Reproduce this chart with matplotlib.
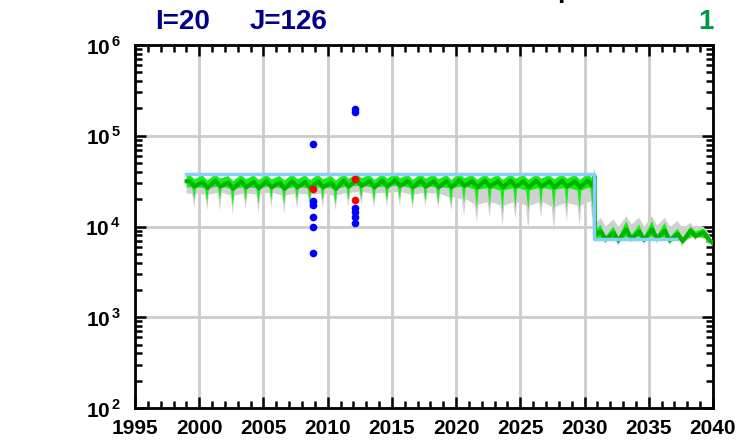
import matplotlib
matplotlib.use("Agg")
import matplotlib.pyplot as plt
from matplotlib.ticker import MultipleLocator, LogLocator, NullFormatter
import numpy as np

plt.rcParams['font.family'] = ['Liberation Sans', 'DejaVu Sans']
plt.rcParams['mathtext.fontset'] = 'custom'
plt.rcParams['mathtext.bf'] = 'Liberation Sans:bold'
plt.rcParams['mathtext.rm'] = 'Liberation Sans:bold'

# ---------------- data ----------------
years = list(range(1999, 2040))
end_year = 2040.0
jump_t = [2030.78, 2030.82]          # abrupt change of level

# upper envelopes (gentle wave): peak / trough per year
green_high_pk = [37000, 36500, 37500, 36000, 37000, 36500, 37000, 36000, 37500, 36500, 37000, 36000,
                 37500, 38000, 37000, 37500, 38500, 37000, 38000, 37500, 37000, 38500, 37000, 37500,
                 37000, 37500, 37000, 37500, 37000, 37500, 37000, 38000,
                 10500, 10000, 11500, 10500, 11500, 11000, 9500, 10000, 9500]
green_high_tr = [33000, 32000, 33500, 31500, 33000, 32500, 33000, 32000, 33000, 32500, 33000, 32000,
                 33500, 34000, 32500, 33500, 34000, 32500, 33500, 33000, 32500, 34000, 32500, 33500,
                 32500, 33500, 32500, 33500, 33000, 33500, 32500, 33500,
                 7800, 7600, 8000, 7800, 8000, 7600, 7400, 8800, 8200]
green_high_jump = [43000, 9000]
gray_high_pk = [37000, 36500, 37500, 36000, 37000, 36500, 37000, 36000, 37500, 36500, 37000, 36000,
                37500, 38000, 37000, 37500, 38500, 37000, 38000, 37500, 37000, 38500, 37000, 37500,
                37000, 37500, 37000, 37500, 37000, 37500, 37000, 38000,
                12500, 12000, 13000, 12500, 13000, 12500, 11500, 11000, 10000]
gray_high_tr = [33000, 32000, 33500, 31500, 33000, 32500, 33000, 32000, 33000, 32500, 33000, 32000,
                33500, 34000, 32500, 33500, 34000, 32500, 33500, 33000, 32500, 34000, 32500, 33500,
                32500, 33500, 32500, 33500, 33000, 33500, 32500, 33500,
                10000, 9800, 10500, 10000, 10200, 9800, 9500, 9200, 8500]
gray_high_jump = [43000, 10500]
med_pk = [31500, 31000, 32000, 30500, 31500, 31000, 31500, 30500, 31500, 31000, 31500, 30500,
          32000, 32500, 31500, 32000, 32500, 31500, 32000, 31500, 31500, 32500, 31500, 32000,
          31500, 32000, 31500, 32000, 31500, 32000, 31500, 32000,
          8800, 8500, 9300, 8800, 9300, 9000, 8300, 9000, 8600]
med_tr = [27500, 26500, 27500, 26000, 27000, 26500, 27000, 26000, 27000, 26500, 27000, 26000,
          27500, 28000, 27000, 27500, 28000, 27000, 27500, 27000, 27000, 28000, 27000, 27500,
          27000, 27500, 27000, 27500, 27000, 27500, 27000, 27500,
          7200, 7000, 7300, 7100, 7300, 7000, 6900, 7800, 7300]
med_jump = [36000, 8000]

# lower envelopes (plateau with narrow dips): plateau / dip per year
green_low_pl = [27000, 26500, 27500, 26000, 27000, 26500, 27500, 26000, 27000, 26500, 27000, 26000,
                27500, 28000, 27000, 27500, 28000, 26500, 27500, 27000, 26500, 27500, 25500, 26500,
                25000, 26500, 25000, 26500, 25500, 26500, 25000, 27000,
                7500, 7300, 7800, 7500, 7800, 7400, 7000, 7800, 7400]
green_low_dp = [20000, 18500, 19500, 17000, 19000, 18000, 19500, 17500, 19000, 18000, 19500, 17500,
                19500, 20000, 18500, 19000, 20000, 17500, 19000, 18000, 17500, 18000, 15500, 16500,
                14500, 16000, 15000, 16500, 14500, 16000, 15000, 16000,
                6600, 6300, 6800, 6500, 6700, 6400, 6200, 7200, 6600]
green_low_jump = [24000, 7000]
gray_low_pl = [23000, 22500, 23500, 22000, 23000, 22500, 23500, 22000, 23000, 22500, 23000, 22000,
               23500, 24000, 23000, 23500, 24000, 22500, 23500, 23000, 21000, 20000, 17500, 18500,
               17000, 18500, 17000, 18500, 16500, 18000, 17000, 19000,
               7200, 7000, 7500, 7200, 7500, 7100, 6800, 7600, 7200]
gray_low_dp = [16000, 15000, 14500, 13500, 15500, 14000, 16000, 13500, 15500, 14500, 16000, 15000,
               16500, 17000, 16000, 16500, 17000, 15500, 16500, 16000, 15000, 13000, 11000, 12500,
               10000, 12000, 9000, 12500, 8500, 11500, 10000, 12000,
               6400, 6100, 6600, 6300, 6500, 6200, 6000, 7000, 6400]
gray_low_jump = [20000, 6800]
end_value = 6500

ref_t = [1999.0, 2030.7, 2030.7, 2037.1]
ref_v = [37500, 37500, 7300, 7300]

obs_blue_t = [2008.85, 2008.85, 2008.85, 2008.85, 2008.85, 2008.85,
              2012.1, 2012.1, 2012.1, 2012.1, 2012.1, 2012.1]
obs_blue_v = [81000, 19000, 17300, 12700, 9900, 5100,
              195000, 185000, 16000, 14400, 12700, 10900]
obs_red_t = [2008.85, 2012.1, 2012.1]
obs_red_v = [25900, 33300, 19600]


# ---------------- build envelopes ----------------
def wave(pk, tr, jump):
    t, v = [years[0] + 0.02], [pk[0]]
    for y, p, q in zip(years, pk, tr):
        if y == 2031:
            t += jump_t
            v += jump
        t += [y + 0.25, y + 0.65]
        v += [p, q]
    t.append(end_year)
    v.append(end_value)
    return np.array(t), np.array(v)


def dips(pl, dp, jump):
    t, v = [years[0] + 0.02], [pl[0]]
    for y, p, q in zip(years, pl, dp):
        if y == 2031:
            t += jump_t
            v += jump
        t += [y + 0.45, y + 0.62, y + 0.75]
        v += [p, q, p]
    t.append(end_year)
    v.append(end_value)
    return np.array(t), np.array(v)


def band(ax, hi, lo, **kw):
    xs = np.concatenate([hi[0], lo[0][::-1]])
    ys = np.concatenate([hi[1], lo[1][::-1]])
    ax.fill(xs, ys, lw=0, **kw)


# ---------------- figure ----------------
fig = plt.figure(figsize=(7.43, 4.46), dpi=100)
ax = fig.add_axes([135 / 743, 1 - 408 / 446, 578 / 743, 363 / 446])

ax.set_xlim(1995, 2040)
ax.set_yscale('log')
ax.set_ylim(1e2, 1e6)

ax.xaxis.set_major_locator(MultipleLocator(5))
ax.xaxis.set_minor_locator(MultipleLocator(1))
ax.yaxis.set_major_locator(LogLocator(base=10, numticks=10))
ax.yaxis.set_minor_locator(LogLocator(base=10, subs=np.arange(2, 10), numticks=50))
ax.yaxis.set_minor_formatter(NullFormatter())
ax.yaxis.set_major_formatter(plt.FuncFormatter(
    lambda v, p: r'$\mathbf{10}^{\,\mathbf{%d}}$' % int(round(np.log10(v)))))

ax.grid(True, which='major', color='#cccccc', lw=2, zorder=0)
ax.set_axisbelow(True)

band(ax, wave(gray_high_pk, gray_high_tr, gray_high_jump),
     dips(gray_low_pl, gray_low_dp, gray_low_jump), color='#d0d0d0', zorder=2)
band(ax, wave(green_high_pk, green_high_tr, green_high_jump),
     dips(green_low_pl, green_low_dp, green_low_jump), color='#11f011', zorder=3)
tm, vm = wave(med_pk, med_tr, med_jump)
ax.plot(tm, vm, color='#00b400', lw=3, zorder=4)
ax.plot(ref_t, ref_v, color='#87cefa', lw=2.5, zorder=5)
ax.plot(obs_blue_t, obs_blue_v, 'o', color='#0000ff', ms=5.5, mec='none', zorder=6)
ax.plot(obs_red_t, obs_red_v, 'o', color='#ff0000', ms=5.5, mec='none', zorder=7)

for s in ax.spines.values():
    s.set_linewidth(2)
ax.tick_params(which='both', direction='in', top=True, right=True, width=1.8, pad=8)
ax.tick_params(axis='x', labelsize=15)
ax.tick_params(axis='y', labelsize=15, pad=10)
ax.tick_params(which='major', length=8)
ax.tick_params(which='minor', length=5)
for lab in ax.get_xticklabels():
    lab.set_fontweight('bold')

fig.text(155 / 743, 1 - 22 / 446, 'I=20', color='#00008b', fontsize=20, fontweight='bold',
         ha='left', va='center')
fig.text(250 / 743, 1 - 22 / 446, 'J=126', color='#00008b', fontsize=20, fontweight='bold',
         ha='left', va='center')
fig.text(714 / 743, 1 - 22 / 446, '1', color='#009944', fontsize=20, fontweight='bold',
         ha='right', va='center')
fig.text(565 / 743, 1 + 2 / 446, 'p', color='black', fontsize=19, fontweight='bold',
         ha='center', va='baseline')

fig.savefig('out.png', dpi=100)
